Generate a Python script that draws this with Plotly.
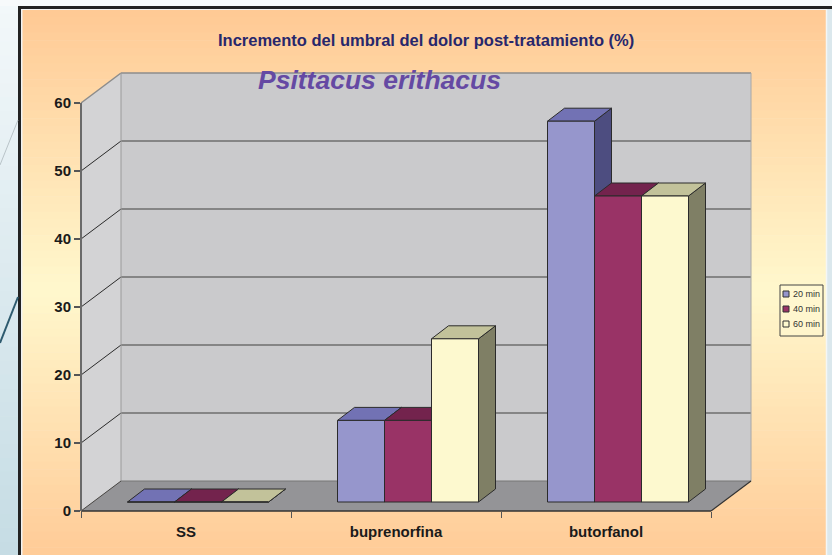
import plotly.graph_objects as go

# ---------------- data ----------------
categories = ["SS", "buprenorfina", "butorfanol"]
series_names = ["20 min", "40 min", "60 min"]
values_20 = [0, 12, 56]
values_40 = [0, 12, 45]
values_60 = [0, 24, 45]
y_ticks = [0, 10, 20, 30, 40, 50, 60]

title_text = "Incremento del umbral del dolor post-tratamiento (%)"
subtitle_text = "Psittacus erithacus"

# ---------------- style ----------------
front_colors = ["#9696cc", "#993366", "#fdf9cf"]
top_colors = ["#7272b4", "#73234d", "#c2c29a"]
side_colors = ["#4d4d80", "#6b2447", "#7f7f65"]
FONT = "Arial, 'Liberation Sans', sans-serif"

W, H = 832, 555
L, R, T, B = 81, 756, 70, 511      # plot area in pixels
UX = 210.0                          # pixels per category
UY = 6.8                            # pixels per value unit
XR = (R - L) / UX
YR = (B - T) / UY

WDX, WDY = 40 / UX, 30 / UY         # wall depth
BDX0, BDY0 = 12 / UX, 9 / UY        # bar front offset
BDDX, BDDY = 17 / UX, 13 / UY       # bar depth
BW = 47 / UX                        # bar width
NCAT = len(categories)
VMAX = y_ticks[-1]


def xp(x):
    return x / XR


def yp(y):
    return y / YR


def ppx(px):
    return (px - L) / (R - L)


def ppy(py):
    return (B - py) / (B - T)


def hexrgb(h):
    h = h.lstrip("#")
    return tuple(int(h[i:i + 2], 16) for i in (0, 2, 4))


def lerp(c1, c2, t):
    return "rgb(%d,%d,%d)" % tuple(round(a + (b - a) * t) for a, b in zip(c1, c2))


shapes = []


def rect_px(x0, y0, x1, y1, color, layer="below"):
    shapes.append(dict(type="rect", xref="paper", yref="paper",
                       x0=ppx(x0), x1=ppx(x1), y0=ppy(y1), y1=ppy(y0),
                       fillcolor=color, line=dict(width=0), layer=layer))


def line_px(x0, y0, x1, y1, color, width):
    shapes.append(dict(type="line", xref="paper", yref="paper",
                       x0=ppx(x0), x1=ppx(x1), y0=ppy(y0), y1=ppy(y1),
                       line=dict(color=color, width=width), layer="below"))


def poly_data_paper(pts, fill, lcolor=None, lwidth=0):
    path = "M " + " L ".join("%f,%f" % (xp(x), yp(y)) for x, y in pts) + " Z"
    shapes.append(dict(type="path", xref="paper", yref="paper", path=path,
                       fillcolor=fill,
                       line=dict(color=lcolor or fill, width=lwidth), layer="below"))


def line_data_paper(p0, p1, color, width):
    shapes.append(dict(type="line", xref="paper", yref="paper",
                       x0=xp(p0[0]), y0=yp(p0[1]), x1=xp(p1[0]), y1=yp(p1[1]),
                       line=dict(color=color, width=width), layer="below"))


# ---------------- slide / chart-area background ----------------
left_top, left_bot = hexrgb("#f3f8fa"), hexrgb("#c5dce4")
NB = 40
for i in range(NB):
    y0 = H * i / NB
    y1 = H * (i + 1) / NB + 0.6
    rect_px(0, y0, 19, y1, lerp(left_top, left_bot, (i + 0.5) / NB))
rect_px(0, 0, W, 6, "#f7fafb")
rect_px(826, 6, W, H, "#dbe8ed")

stops = [(9, hexrgb("#ffc994")), (290, hexrgb("#fff8cd")), (H, hexrgb("#ffcb97"))]
NB2 = 70
top_px, bot_px = 9, H
for i in range(NB2):
    y0 = top_px + (bot_px - top_px) * i / NB2
    y1 = top_px + (bot_px - top_px) * (i + 1) / NB2 + 0.6
    ym = (y0 + y1) / 2
    if ym <= stops[1][0]:
        c = lerp(stops[0][1], stops[1][1], (ym - stops[0][0]) / (stops[1][0] - stops[0][0]))
    else:
        c = lerp(stops[1][1], stops[2][1], (ym - stops[1][0]) / (stops[2][0] - stops[1][0]))
    rect_px(22, y0, 826, y1, c)

# frame
line_px(18, 7.5, W, 7.5, "#222222", 3)
line_px(19.5, 6, 19.5, H, "#222222", 3)
line_px(22, 9.5, 826, 9.5, "#f2f2f2", 1)
line_px(22, 9.5, 22, H, "#f2f2f2", 1)
line_px(826.5, 9, 826.5, H, "#f4f6f6", 1.5)

# slide decoration lines
line_px(0, 165, 18, 120, "#b9c4c8", 1)
line_px(0, 343, 18, 297, "#2d5a6e", 2)

# ---------------- 3D walls / floor ----------------
poly_data_paper([(0, 0), (WDX, WDY), (WDX, VMAX + WDY), (0, VMAX)], "#d3d3d5")
poly_data_paper([(WDX, WDY), (NCAT + WDX, WDY), (NCAT + WDX, VMAX + WDY), (WDX, VMAX + WDY)],
                "#cacacc")
poly_data_paper([(0, 0), (NCAT, 0), (NCAT + WDX, WDY), (WDX, WDY)], "#949497")

for v in y_ticks[1:-1]:
    line_data_paper((WDX, v + WDY), (NCAT + WDX, v + WDY), "#6e6e6e", 1.5)
    line_data_paper((0, v), (WDX, v + WDY), "#2a2a2a", 1)

line_data_paper((0, VMAX), (WDX, VMAX + WDY), "#8c8c8c", 1.5)
line_data_paper((WDX, VMAX + WDY), (NCAT + WDX, VMAX + WDY), "#8c8c8c", 1.5)
line_data_paper((WDX, WDY), (WDX, VMAX + WDY), "#9a9a9a", 1)
line_data_paper((NCAT + WDX, WDY), (NCAT + WDX, VMAX + WDY), "#a8a8a8", 1)
line_data_paper((WDX, WDY), (NCAT + WDX, WDY), "#777777", 1)
line_data_paper((0, 0), (WDX, WDY), "#444444", 1)
line_data_paper((NCAT, 0), (NCAT + WDX, WDY), "#333333", 1.2)
line_data_paper((0, 0), (NCAT, 0), "#333333", 1.5)
line_data_paper((0, 0), (0, VMAX), "#6a6a6a", 2)

# ---------------- bars (front faces are traces; top/side faces are shapes) ----------------
all_values = [values_20, values_40, values_60]
centers = [i + 0.5 + BDX0 for i in range(NCAT)]

for i in range(NCAT):
    for k, vals in enumerate(all_values):
        v = vals[i]
        x0 = centers[i] + (k - 1.5) * BW
        x1 = x0 + BW
        y0 = BDY0
        y1 = BDY0 + v
        side = [(x1, y0), (x1 + BDDX, y0 + BDDY), (x1 + BDDX, y1 + BDDY), (x1, y1)]
        top = [(x0, y1), (x1, y1), (x1 + BDDX, y1 + BDDY), (x0 + BDDX, y1 + BDDY)]
        for pts, col in ((side, side_colors[k]), (top, top_colors[k])):
            path = "M " + " L ".join("%f,%f" % p for p in pts) + " Z"
            shapes.append(dict(type="path", xref="x", yref="y", path=path,
                               fillcolor=col, line=dict(color="#2b2b2b", width=1),
                               layer="below"))

fig = go.Figure()
for k, vals in enumerate(all_values):
    fig.add_trace(go.Bar(
        x=centers, y=vals, base=BDY0, width=BW, offset=(k - 1.5) * BW,
        name=series_names[k], showlegend=False,
        marker=dict(color=front_colors[k], line=dict(color="#2b2b2b", width=1)),
        hoverinfo="skip"))

# ---------------- manual legend ----------------
annotations = []
rect_px(780, 285, 823, 336, "rgba(255,248,210,0.6)", layer="above")
shapes.append(dict(type="rect", xref="paper", yref="paper",
                   x0=ppx(780), x1=ppx(823), y0=ppy(336), y1=ppy(285),
                   line=dict(color="#444444", width=1), fillcolor="rgba(0,0,0,0)",
                   layer="above"))
for k, name in enumerate(series_names):
    cy = 294 + 15 * k
    shapes.append(dict(type="rect", xref="paper", yref="paper",
                       x0=ppx(783), x1=ppx(789), y0=ppy(cy + 3), y1=ppy(cy - 3),
                       fillcolor=front_colors[k], line=dict(color="#333333", width=1),
                       layer="above"))
    annotations.append(dict(text=name, xref="paper", yref="paper",
                            x=ppx(790.5), y=ppy(cy), xanchor="left", yanchor="middle",
                            showarrow=False,
                            font=dict(family=FONT, size=9, color="#333333")))

# ---------------- titles ----------------
annotations.append(dict(text="<b>%s</b>" % title_text, xref="paper", yref="paper",
                        x=ppx(426), y=ppy(40), xanchor="center", yanchor="middle",
                        showarrow=False, font=dict(family=FONT, size=16.5, color="#27276c")))
annotations.append(dict(text="<b><i>%s</i></b>" % subtitle_text, xref="paper", yref="paper",
                        x=ppx(379), y=ppy(80), xanchor="center", yanchor="middle",
                        showarrow=False, font=dict(family=FONT, size=26.5, color="#6549a3")))

fig.update_layout(
    width=W, height=H,
    margin=dict(l=L, r=W - R, t=T, b=H - B, pad=0),
    paper_bgcolor="#eef4f6",
    plot_bgcolor="rgba(0,0,0,0)",
    barmode="overlay",
    showlegend=False,
    shapes=shapes,
    annotations=annotations,
    xaxis=dict(range=[0, XR], tickmode="array",
               tickvals=[i + 0.5 for i in range(NCAT)], ticktext=categories,
               ticks="", showgrid=False, zeroline=False, showline=False,
               tickfont=dict(family=FONT, size=15, color="#1a1a1a", weight="bold"),
               ticklabelstandoff=10,
               minor=dict(tickmode="array", tickvals=list(range(NCAT + 1)),
                          ticks="outside", ticklen=6, tickcolor="#555555",
                          tickwidth=1.2, showgrid=False)),
    yaxis=dict(range=[0, YR], tickmode="array", tickvals=y_ticks,
               ticks="outside", ticklen=6, tickcolor="#555555", tickwidth=1.5,
               showgrid=False, zeroline=False, showline=False,
               tickfont=dict(family=FONT, size=15, color="#1a1a1a", weight="bold")),
)

fig.write_html("out.html",
               config={"displayModeBar": False},
               post_script="document.body.style.margin='0px';"
                           "document.body.style.padding='0px';"
                           "document.body.style.overflow='hidden';")
